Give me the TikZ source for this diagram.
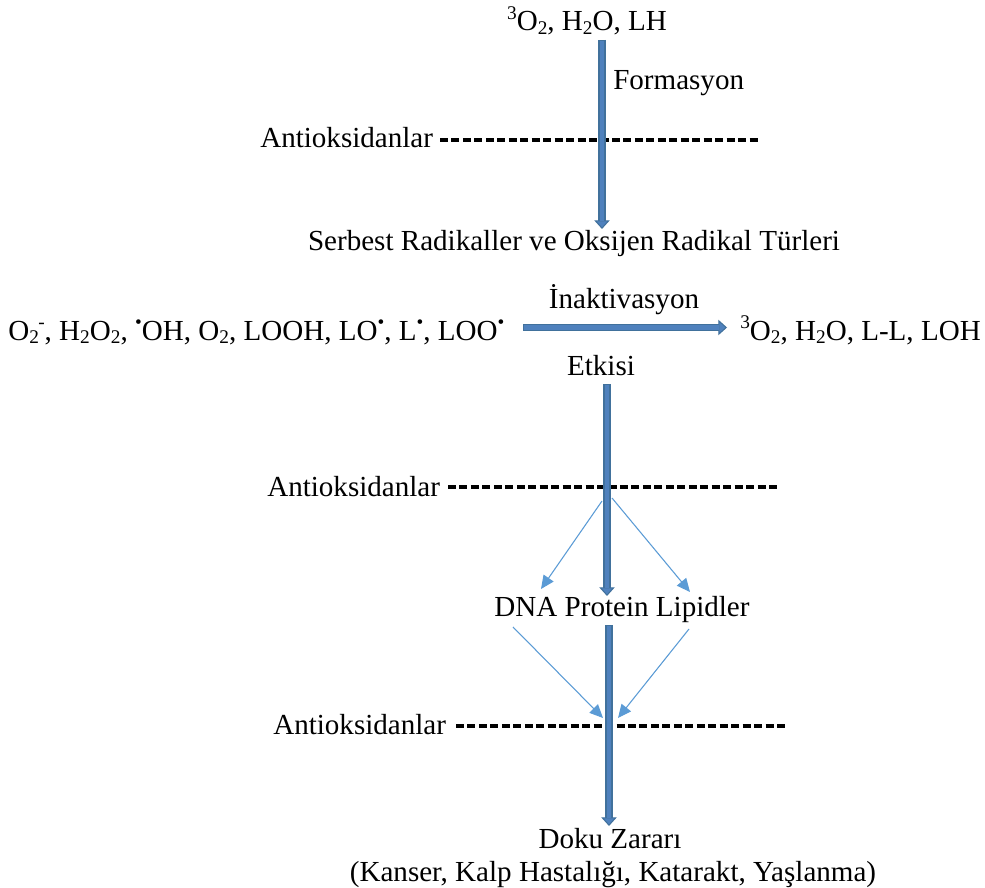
\documentclass[tikz,border=0pt]{standalone}
\usepackage{fontspec}
\setmainfont{Liberation Serif}
\usetikzlibrary{arrows.meta}

\definecolor{boutline}{HTML}{41719C}
\definecolor{bfill}{HTML}{4F81BD}
\definecolor{thinblue}{HTML}{5B9BD5}

% chemical sub- and superscripts in the text font
\newcommand\chsb[1]{\raisebox{-0.28ex}{\fontsize{14.5pt}{14.5pt}\selectfont #1}}
\newcommand\chsp[1]{\raisebox{0.85ex}{\fontsize{14.5pt}{14.5pt}\selectfont #1}}
\newcommand\rad{\chsp{•}}

\tikzset{
  lbl/.style={inner sep=0pt, font=\fontsize{21.8pt}{26pt}\selectfont},
  blockline/.style={line width=5.5pt, draw=boutline,
    -{Triangle[length=6.5pt 0, width=11.5pt 0, line width=0.8pt, fill=bfill]}},
  blockcore/.style={line width=3.2pt, draw=bfill, shorten >=6pt, shorten <=0.6pt},
  thinarrow/.style={line width=0.8pt, draw=thinblue,
    -{Triangle[length=10pt 0, width=9pt 0]}},
  dashline/.style={line width=3pt, dash pattern=on 6pt off 2.6pt}
}

\begin{document}
\begin{tikzpicture}[x=0.75pt, y=-0.75pt]
\useasboundingbox (0,0) rectangle (985,888);

% text nodes
\node[lbl, anchor=base] (src) at (587,31) {\chsp{3}O\chsb{2}, H\chsb{2}O, LH};
\node[lbl, anchor=base west] (form) at (613,90) {Formasyon};
\node[lbl, anchor=base west] (anti1) at (260,148) {Antioksidanlar};
\node[lbl, anchor=base] (serb) at (574,250) {Serbest Radikaller ve Oksijen Radikal Türleri};
\node[lbl, anchor=base west] (rads) at (8,340)
  {O\chsb{2}\kern-0.5pt\chsp{-}, H\chsb{2}O\chsb{2}, \rad OH, O\chsb{2}, LOOH, LO\rad, L\rad, LOO\rad};
\node[lbl, anchor=base] (inakt) at (624,308) {İnaktivasyon};
\node[lbl, anchor=base west] (prod) at (740,340) {\chsp{3}O\chsb{2}, H\chsb{2}O, L-L, LOH};
\node[lbl, anchor=base] (etki) at (601,375) {Etkisi};
\node[lbl, anchor=base west] (anti2) at (267,496) {Antioksidanlar};
\node[lbl, anchor=base] (dna) at (622,616) {DNA Protein Lipidler};
\node[lbl, anchor=base west] (anti3) at (273,734) {Antioksidanlar};
\node[lbl, anchor=base] (doku) at (610,848) {Doku Zararı};
\node[lbl, anchor=base] (hast) at (613,881) {(Kanser, Kalp Hastalığı, Katarakt, Yaşlanma)};

% connector end points
\coordinate (a1s) at (602,40);
\coordinate (a1e) at (602,229);
\coordinate (hs) at (523,327.5);
\coordinate (he) at (727,327.5);
\coordinate (a2s) at (607,384);
\coordinate (a2e) at (607,596);
\coordinate (a3s) at (609,625);
\coordinate (a3e) at (609,826);

\coordinate (d1s) at (440,140);
\coordinate (d1e) at (761,140);
\coordinate (d2s) at (448,487);
\coordinate (d2e) at (777,487);
\coordinate (d3s) at (456,726);
\coordinate (d3e) at (785,726);

\coordinate (t1s) at (602,501);
\coordinate (t1e) at (541,589);
\coordinate (t2s) at (612,498);
\coordinate (t2e) at (690,592);
\coordinate (t3s) at (513,627);
\coordinate (t3e) at (603,718);
\coordinate (t4s) at (689,629);
\coordinate (t4e) at (618,718);

% antioxidant barriers
\draw[dashline] (d1s) -- (d1e);
\draw[dashline] (d2s) -- (d2e);
\draw[dashline] (d3s) -- (d3e);

% main block arrows
\foreach \s/\e in {a1s/a1e, hs/he, a2s/a2e, a3s/a3e} {
  \draw[blockline] (\s) -- (\e);
  \draw[blockcore] (\s) -- (\e);
}

% branching arrows
\draw[thinarrow] (t1s) -- (t1e);
\draw[thinarrow] (t2s) -- (t2e);
\draw[thinarrow] (t3s) -- (t3e);
\draw[thinarrow] (t4s) -- (t4e);
\end{tikzpicture}
\end{document}
